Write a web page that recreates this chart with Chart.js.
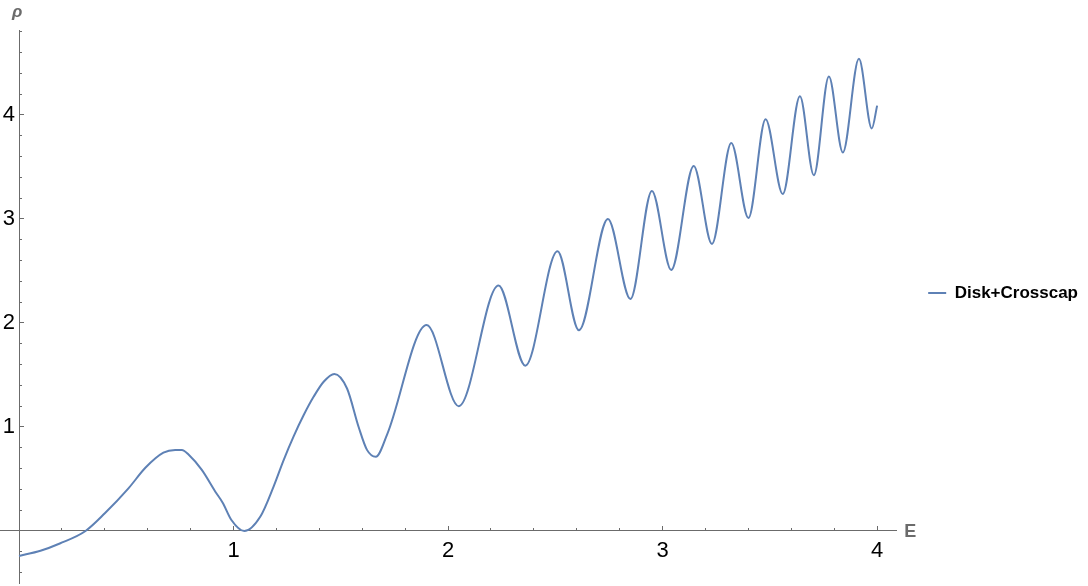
<!DOCTYPE html>
<html><head><meta charset="utf-8">
<script src="https://cdn.jsdelivr.net/npm/chart.js@4.4.1/dist/chart.umd.min.js"></script>
<style>html,body{margin:0;padding:0;background:#fff}#wrap{width:1088px;height:586px}</style>
</head><body><div id="wrap"><canvas id="c" width="1088" height="586"></canvas></div>
<script>
const energy = [0, 0.10, 0.19, 0.31, 0.40, 0.51, 0.59, 0.673, 0.728, 0.759, 0.79, 0.852, 0.915, 0.95, 0.99, 1.05, 1.125, 1.187, 1.233, 1.28, 1.327, 1.373, 1.42, 1.47, 1.529, 1.583, 1.622, 1.663, 1.716, 1.90, 2.05, 2.235, 2.36, 2.51, 2.61, 2.745, 2.85, 2.95, 3.04, 3.145, 3.23, 3.32, 3.40, 3.48, 3.56, 3.64, 3.705, 3.775, 3.84, 3.915, 3.975, 4.00];
const rho = [-0.24, -0.19, -0.12, 0.00, 0.17, 0.41, 0.61, 0.753, 0.779, 0.779, 0.735, 0.587, 0.378, 0.27, 0.106, 0.00, 0.14, 0.43, 0.68, 0.91, 1.115, 1.29, 1.435, 1.51, 1.37, 1.00, 0.78, 0.714, 0.93, 1.98, 1.20, 2.36, 1.59, 2.69, 1.93, 3.00, 2.23, 3.27, 2.51, 3.51, 2.76, 3.73, 3.01, 3.96, 3.24, 4.18, 3.42, 4.37, 3.64, 4.54, 3.87, 4.09];
const seriesName = 'Disk+Crosscap';
const xTickLabels = [1, 2, 3, 4];
const yTickLabels = [1, 2, 3, 4];
const xTitle = 'E';
const yTitle = 'ρ';

const axisColor = '#6b6b6b';
const lineColor = '#5E81B5';
const fontFamily = 'Arial, "Liberation Sans", Helvetica, sans-serif';

const points = energy.map((e, i) => ({x: e, y: rho[i]}));
const isMajor = v => Math.abs(v - Math.round(v)) < 1e-6;

const axisTitles = {
  id: 'axisTitles',
  afterDraw(chart) {
    const {ctx, chartArea, scales} = chart;
    ctx.save();
    ctx.fillStyle = axisColor;
    ctx.font = 'bold 18px ' + fontFamily;
    ctx.textAlign = 'left';
    ctx.textBaseline = 'middle';
    ctx.fillText(xTitle, chartArea.right + 8, scales.y.getPixelForValue(0) + 1);
    ctx.font = 'italic bold 17px ' + fontFamily;
    ctx.textAlign = 'center';
    ctx.fillText(yTitle, scales.x.getPixelForValue(0) - 2, chartArea.top - 18);
    ctx.restore();
  }
};

const fitCentered = (s) => {
  if (s.isHorizontal()) s.height = 0; else s.width = 0;
  s.paddingLeft = 0; s.paddingRight = 0; s.paddingTop = 0; s.paddingBottom = 0;
};
// shift the y tick labels a few pixels left of the centred axis line
const fitY = (s) => {
  fitCentered(s);
  if (!s._labelShift && typeof s._computeLabelItems === 'function') {
    const orig = s._computeLabelItems.bind(s);
    s._computeLabelItems = (area) => {
      const items = orig(area);
      items.forEach(it => { if (it.options && it.options.translation) it.options.translation[0] -= 4; });
      return items;
    };
    s._labelShift = true;
  }
};
const minorDash = c => (c.tick && isMajor(c.tick.value)) ? [] : [3, 40];

new Chart(document.getElementById('c'), {
  type: 'line',
  data: {
    datasets: [{
      label: seriesName,
      data: points,
      xAxisID: 'x',
      yAxisID: 'y',
      borderColor: lineColor,
      backgroundColor: lineColor,
      borderWidth: 2,
      pointRadius: 0,
      fill: false,
      cubicInterpolationMode: 'monotone'
    }]
  },
  options: {
    responsive: false,
    animation: false,
    devicePixelRatio: 1,
    layout: {padding: {left: 0, right: 0, top: 3, bottom: 3}},
    plugins: {
      legend: {
        position: 'right',
        align: 'center',
        labels: {
          usePointStyle: true,
          pointStyle: 'line',
          pointStyleWidth: 18,
          padding: 1,
          color: '#000',
          font: {size: 17, weight: 'bold', family: fontFamily}
        }
      },
      tooltip: {enabled: false}
    },
    scales: {
      x: {
        type: 'linear', axis: 'x', position: {y: 0},
        min: -0.0887, max: 4.0887,
        afterFit: fitCentered,
        border: {display: true, color: axisColor, width: 1},
        grid: {drawOnChartArea: false, drawTicks: true, tickLength: -5, color: axisColor, tickColor: axisColor, tickWidth: 1, tickBorderDash: minorDash},
        ticks: {stepSize: 0.2, includeBounds: false, autoSkip: false, maxRotation: 0, padding: 12, color: '#000',
          font: {size: 22, family: fontFamily},
          callback: v => (isMajor(v) && xTickLabels.includes(Math.round(v))) ? String(Math.round(v)) : ''}
      },
      y: {
        type: 'linear', axis: 'y', position: {x: 0},
        min: -0.5, max: 4.817,
        afterFit: fitY,
        border: {display: true, color: axisColor, width: 1},
        grid: {drawOnChartArea: false, drawTicks: true, tickLength: -5, color: axisColor, tickColor: axisColor, tickWidth: 1, tickBorderDash: minorDash},
        ticks: {stepSize: 0.2, includeBounds: false, autoSkip: false, padding: 12, color: '#000',
          font: {size: 22, family: fontFamily},
          callback: v => (isMajor(v) && yTickLabels.includes(Math.round(v))) ? String(Math.round(v)) : ''}
      },
      gapR: {
        type: 'linear', axis: 'y', position: 'right', display: true,
        afterFit: s => { s.width = 31; s.paddingTop = 0; s.paddingBottom = 0; },
        border: {display: false}, grid: {display: false}, ticks: {display: false}
      },
      gapT: {
        type: 'linear', axis: 'x', position: 'top', display: true,
        afterFit: s => { s.height = 27; s.paddingLeft = 0; s.paddingRight = 0; },
        border: {display: false}, grid: {display: false}, ticks: {display: false}
      }
    }
  },
  plugins: [axisTitles]
});
</script>
</body></html>
